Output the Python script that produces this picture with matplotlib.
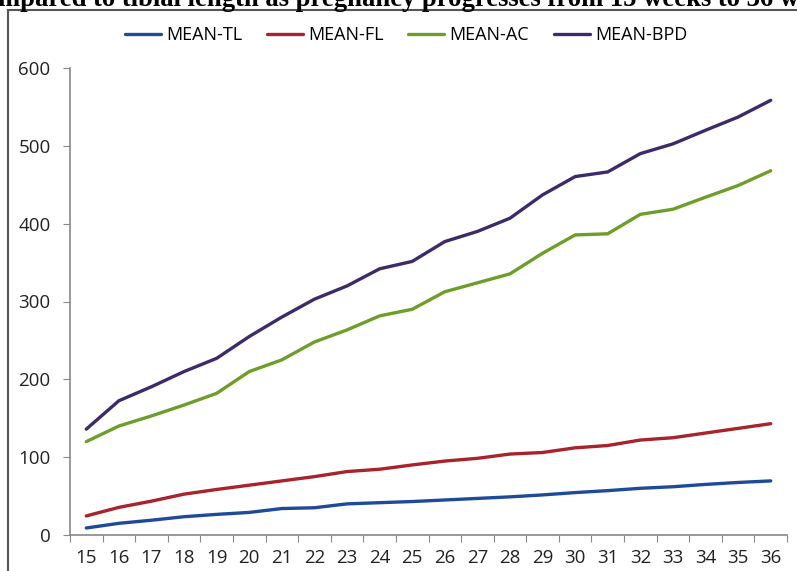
import matplotlib
matplotlib.use("Agg")
import matplotlib.pyplot as plt
from matplotlib.patches import Rectangle

weeks = list(range(15, 37))
mean_tl = [9, 15, 19, 23.5, 26.5, 29, 34, 35, 40, 41.5, 43, 45, 47, 49, 51.5, 54.5, 57, 60, 62, 65, 67.5, 69.5]
mean_fl = [24.5, 35.5, 43.5, 52.5, 58.5, 64, 69.5, 75, 81.5, 84.5, 90, 95, 98.5, 104, 106, 112, 115, 122, 125, 131, 137, 143]
mean_ac = [120, 140, 153, 167, 182, 210, 225, 248, 263.5, 281.5, 290, 312.5, 324, 335.5, 362, 385.5, 387, 412, 418.5, 434, 449, 468]
mean_bpd = [136, 172.5, 190.5, 210, 227, 255, 280, 303, 320, 342, 351.5, 377, 390, 407, 437, 460.5, 466.5, 490, 502.5, 520, 537, 558.5]

series_names = ["MEAN-TL", "MEAN-FL", "MEAN-AC", "MEAN-BPD"]
colors = ["#1F4A99", "#A8232B", "#6E9E2A", "#3D2A6B"]

plt.rcParams['font.family'] = ['Open Sans', 'DejaVu Sans']

fig = plt.figure(figsize=(7.97, 5.71), dpi=100)
W, H = 797, 571

# outer chart border (extends beyond image)
fig.patches.append(Rectangle((8 / W, -0.1), 1.2, (1 - 10 / H) + 0.1, transform=fig.transFigure,
                             fill=False, edgecolor="#555555", linewidth=1.5))

# clipped title text at top (cut off in the reference as well)
fig.text(-2 / W, 1 - 6.5 / H, "mpared to tibial length as pregnancy progresses from 15 weeks to 36 weeks",
         family="Liberation Serif", fontweight="bold", fontsize=19.2, ha="left", va="baseline", color="black")

ax = fig.add_axes([70 / W, 1 - 535 / H, 717 / W, (535 - 68) / H])
x = list(range(len(weeks)))
for vals, name, c in zip([mean_tl, mean_fl, mean_ac, mean_bpd], series_names, colors):
    ax.plot(x, vals, color=c, linewidth=2.4, label=name, solid_capstyle="round")

ax.set_xlim(-0.5, len(weeks) - 0.5)
ax.set_ylim(0, 600)
ax.set_yticks(range(0, 601, 100))
ax.set_xticks([i - 0.5 for i in range(len(weeks) + 1)])
ax.set_xticklabels([])
ax.set_xticks(x, minor=True)
ax.set_xticklabels([str(w) for w in weeks], minor=True)
ax.tick_params(axis="x", which="major", length=5, color="#888888", direction="out")
ax.tick_params(axis="x", which="minor", length=0, pad=10, labelsize=13.5, labelcolor="#222222")
ax.tick_params(axis="y", length=5, color="#888888", direction="out", pad=9, labelsize=13.5, labelcolor="#222222")
for s in ["top", "right"]:
    ax.spines[s].set_visible(False)
for s in ["left", "bottom"]:
    ax.spines[s].set_color("#888888")
    ax.spines[s].set_linewidth(1.2)

fig.legend(loc="center", bbox_to_anchor=(406 / W, 1 - 35 / H), ncol=4, frameon=False,
           fontsize=13, handlelength=2.0, handletextpad=0.3, columnspacing=1.35)

fig.savefig("out.png", dpi=100)
